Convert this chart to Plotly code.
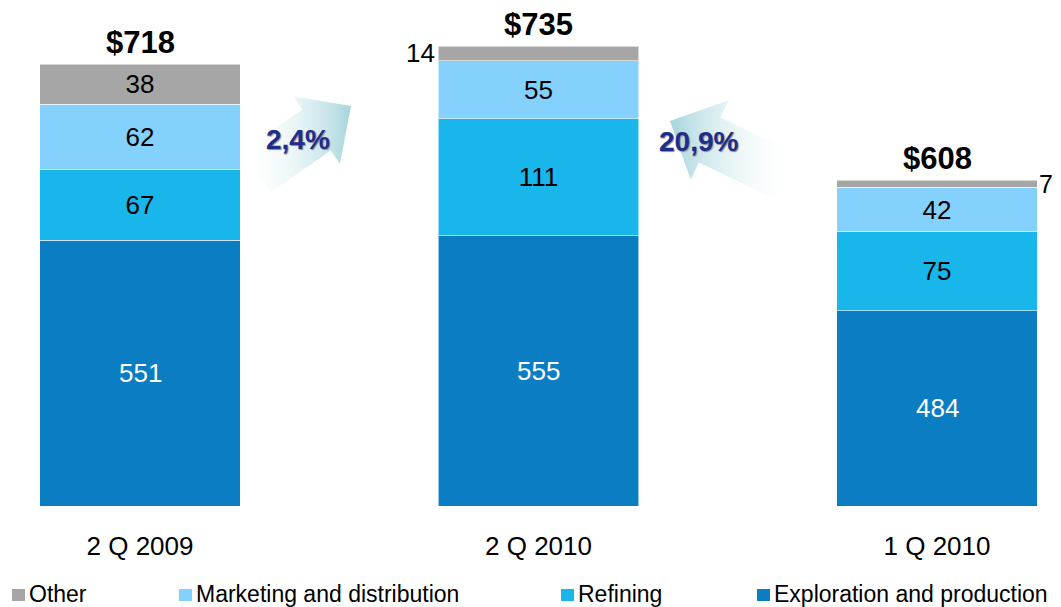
import numpy as np
import plotly.graph_objects as go

# ---------------- data ----------------
categories = ["2 Q 2009", "2 Q 2010", "1 Q 2010"]
series_names = ["Exploration and production", "Refining", "Marketing and distribution", "Other"]
exploration = [551, 555, 484]
refining = [67, 111, 75]
marketing = [62, 55, 42]
other = [38, 14, 7]
totals = [718, 735, 608]
total_labels = ["$718", "$735", "$608"]
change_labels = ["2,4%", "20,9%"]

colors = {
    "Exploration and production": "#0b7dc3",
    "Refining": "#19b6eb",
    "Marketing and distribution": "#84d1fd",
    "Other": "#a6a6a6",
}
FONT = "Liberation Sans, Arial, sans-serif"

# page is 1061x607; the figure sits at (8, 8) because of the body margin
OFF = 8
W, H = 1061 - OFF, 607 - OFF
PH = 498                      # plot area height (page y 8 .. 506)
MB = H - PH
PAGE_BOTTOM = OFF + PH        # 506

xpos = np.arange(len(categories))
bar_w = 0.502

# y scale (truncated axis)
scale = 1.055                 # px per unit
y_bottom = 718 - (PAGE_BOTTOM - 64) / scale
y_top = 718 + (64 - OFF) / scale

fig = go.Figure()
values = {
    "Exploration and production": exploration,
    "Refining": refining,
    "Marketing and distribution": marketing,
    "Other": other,
}
for name in series_names:
    vals = values[name]
    if name == "Exploration and production":
        tpos = "none"
    elif name == "Other":
        tpos = ["inside", "none", "none"]
    else:
        tpos = "inside"
    fig.add_trace(go.Bar(
        x=xpos, y=vals, name=name, width=bar_w,
        marker=dict(color=colors[name], line=dict(color="rgba(255,255,255,0.55)", width=1)),
        text=[str(v) for v in vals], textposition=tpos, insidetextanchor="middle",
        textfont=dict(family=FONT, size=26, color="black"),
        showlegend=False, hoverinfo="skip",
    ))

# labels of the bottom segments, centred in the visible part
for i, v in enumerate(exploration):
    fig.add_annotation(x=xpos[i], y=(y_bottom + v) / 2, text=str(v), showarrow=False,
                       font=dict(family=FONT, size=26, color="white"))

# totals on top
for i, (t, lab) in enumerate(zip(totals, total_labels)):
    fig.add_annotation(x=xpos[i], y=t, text="<b>%s</b>" % lab, showarrow=False,
                       yanchor="bottom", yshift=2,
                       font=dict(family=FONT, size=31, color="black"))

# outside labels for small "Other" segments
cum_below = [e + r + m for e, r, m in zip(exploration, refining, marketing)]
fig.add_annotation(x=xpos[1] - bar_w / 2, y=cum_below[1] + other[1] / 2, text=str(other[1]),
                   showarrow=False, xanchor="right", xshift=-1,
                   font=dict(family=FONT, size=26, color="black"))
fig.add_annotation(x=xpos[2] + bar_w / 2, y=cum_below[2] + other[2] / 2, text=str(other[2]),
                   showarrow=False, xanchor="left", xshift=0,
                   font=dict(family=FONT, size=25, color="black"))

# ---------------- decorative arrows (page-pixel overlay axis) ----------------
def arrow_poly(tail, tip, shaft_w, head_w, head_len):
    tail = np.array(tail, float); tip = np.array(tip, float)
    d = (tip - tail) / np.linalg.norm(tip - tail)
    n = np.array([-d[1], d[0]])
    base = tip - head_len * d
    pts = [tail + n * shaft_w / 2, base + n * shaft_w / 2, base + n * head_w / 2, tip,
           base - n * head_w / 2, base - n * shaft_w / 2, tail - n * shaft_w / 2, tail + n * shaft_w / 2]
    pts = np.array(pts)
    return pts[:, 0], pts[:, 1]

head_col = "#a6d5dc"
arrows = [
    dict(tail=(256, 172), tip=(351, 106), sw=50, hw=82, hl=42,
         cs=[[0, "rgba(255,255,255,0)"], [1, head_col]], text=change_labels[0], tpos=(298, 139)),
    dict(tail=(785, 176), tip=(670, 121), sw=50, hw=88, hl=44,
         cs=[[0, head_col], [1, "rgba(255,255,255,0)"]], text=change_labels[1], tpos=(698, 141)),
]
for a in arrows:
    ax_, ay_ = arrow_poly(a["tail"], a["tip"], a["sw"], a["hw"], a["hl"])
    fig.add_trace(go.Scatter(
        x=ax_, y=ay_, xaxis="x2", yaxis="y2", mode="lines", fill="toself",
        line=dict(width=0, color="rgba(0,0,0,0)"),
        fillgradient=dict(type="horizontal", colorscale=a["cs"],
                          start=float(ax_.min()), stop=float(ax_.max())),
        showlegend=False, hoverinfo="skip",
    ))
    fig.add_annotation(x=a["tpos"][0], y=a["tpos"][1], xref="x2", yref="y2",
                       text="<b>%s</b>" % a["text"], showarrow=False,
                       font=dict(family=FONT, size=28, color="#1f2e8c",
                                 shadow="1px 1px 1px #8a8a8a"))

# ---------------- custom legend ----------------
def px_to_paper_x(p):
    return (p - OFF) / W

def px_to_paper_y(p):
    return (PAGE_BOTTOM - p) / PH

legend_order = ["Other", "Marketing and distribution", "Refining", "Exploration and production"]
legend_sq_x = [12, 179, 561, 757]
for name, sx in zip(legend_order, legend_sq_x):
    fig.add_shape(type="rect", xref="paper", yref="paper",
                  x0=px_to_paper_x(sx), x1=px_to_paper_x(sx + 13),
                  y0=px_to_paper_y(601), y1=px_to_paper_y(589),
                  fillcolor=colors[name], line=dict(width=0))
    fig.add_annotation(x=px_to_paper_x(sx + 15), y=px_to_paper_y(594), xref="paper", yref="paper",
                       text=name, showarrow=False, xanchor="left", yanchor="middle",
                       font=dict(family=FONT, size=23, color="black"))

# ---------------- layout ----------------
px_per_cat = 398.5
x_left = -(140 - OFF) / px_per_cat
x_right = (1061 - 140) / px_per_cat

fig.update_layout(
    width=W, height=H,
    margin=dict(l=0, r=0, t=0, b=MB, pad=0),
    paper_bgcolor="white", plot_bgcolor="white",
    barmode="stack",
    showlegend=False,
    font=dict(family=FONT, color="black"),
    xaxis=dict(range=[x_left, x_right], tickvals=list(xpos), ticktext=categories,
               tickfont=dict(family=FONT, size=26, color="black"),
               showgrid=False, zeroline=False, showline=False, ticks="",
               ticklabelstandoff=22, fixedrange=True),
    yaxis=dict(range=[y_bottom, y_top], visible=False, showgrid=False, zeroline=False,
               fixedrange=True),
    xaxis2=dict(overlaying="x", range=[OFF, 1061], visible=False, fixedrange=True),
    yaxis2=dict(overlaying="y", range=[PAGE_BOTTOM, OFF], visible=False, fixedrange=True),
)

fig.write_html("out.html")
